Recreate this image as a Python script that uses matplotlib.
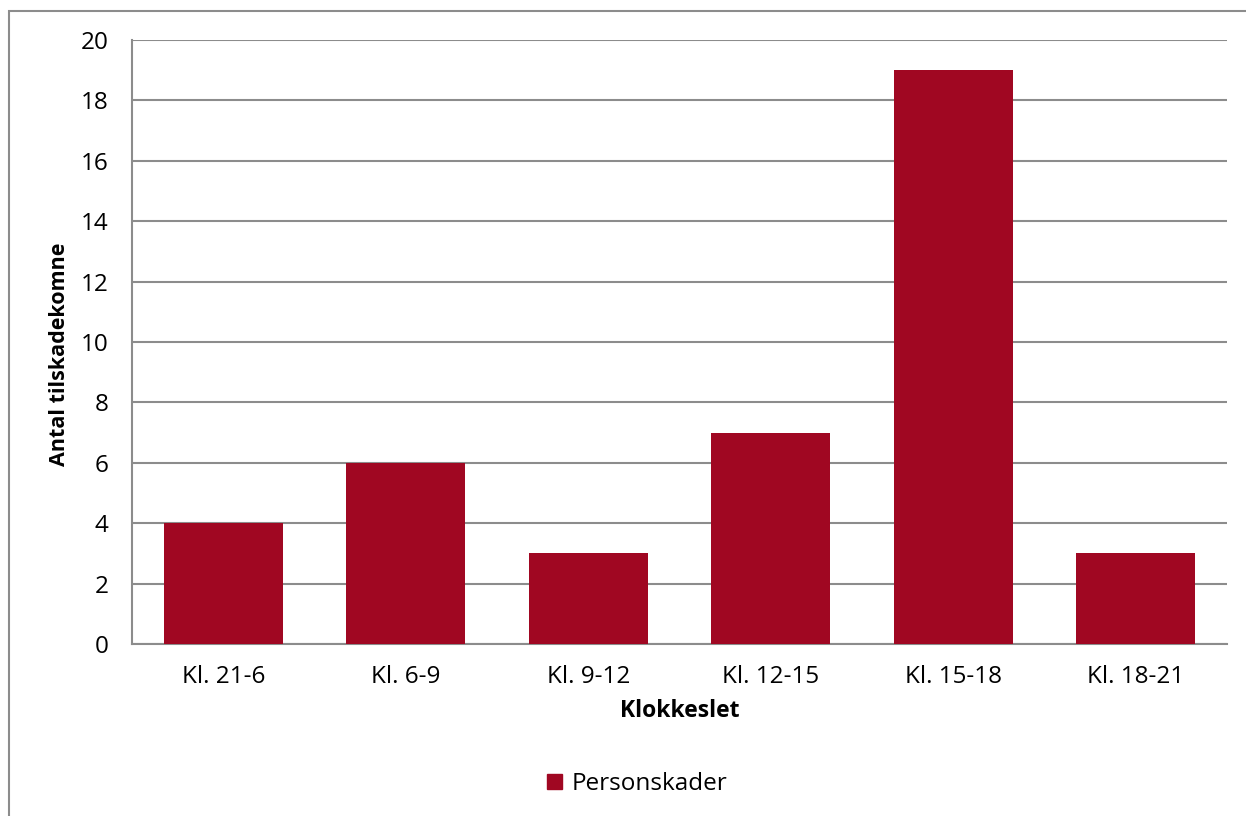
import matplotlib
matplotlib.use("Agg")
import matplotlib.pyplot as plt
from matplotlib.patches import Rectangle, Patch

categories = ["Kl. 21-6", "Kl. 6-9", "Kl. 9-12", "Kl. 12-15", "Kl. 15-18", "Kl. 18-21"]
personskader = [4, 6, 3, 7, 19, 3]
y_ticks = list(range(0, 21, 2))

bar_color = "#A00722"
grid_color = "#8C8C8C"

plt.rcParams["font.family"] = ["Open Sans", "DejaVu Sans"]

W, H = 1246, 816
fig = plt.figure(figsize=(W / 100, H / 100), dpi=100)

# outer chart frame (left and top edges visible)
fig.patches.append(Rectangle((9 / W, -0.1), 1.2, 1 - 11 / H + 0.1,
                             transform=fig.transFigure, fill=False,
                             edgecolor="#8C8C8C", linewidth=1.5))

ax = fig.add_axes([132 / W, 1 - 644 / H, (1227 - 132) / W, (644 - 40) / H])
x = range(len(categories))
ax.bar(x, personskader, width=0.65, color=bar_color, zorder=3, label="Personskader")
ax.set_xlim(-0.5, len(categories) - 0.5)
ax.set_ylim(0, 20)
ax.set_yticks(y_ticks)
ax.set_xticks(list(x))
ax.set_xticklabels(categories)
ax.tick_params(axis="both", length=0, labelsize=17.5, colors="black")
ax.tick_params(axis="y", pad=17)
ax.tick_params(axis="x", pad=15)
ax.yaxis.grid(True, color=grid_color, linewidth=1.5, zorder=0)
for s in ["top", "right"]:
    ax.spines[s].set_visible(False)
for s in ["left", "bottom"]:
    ax.spines[s].set_color(grid_color)
    ax.spines[s].set_linewidth(1.5)

ax.set_ylabel("Antal tilskadekomne", fontsize=15.5, fontweight="bold")
ax.yaxis.set_label_coords(-0.057, 0.48)
ax.set_xlabel("Klokkeslet", fontsize=16.5, fontweight="bold", labelpad=7)

fig.legend(handles=[Patch(color=bar_color, label="Personskader")],
           loc="center", bbox_to_anchor=(637 / W, 1 - 784 / H), frameon=False,
           fontsize=17.5, handlelength=0.6, handleheight=0.6, handletextpad=0.4)

fig.savefig("out.png", dpi=100)
